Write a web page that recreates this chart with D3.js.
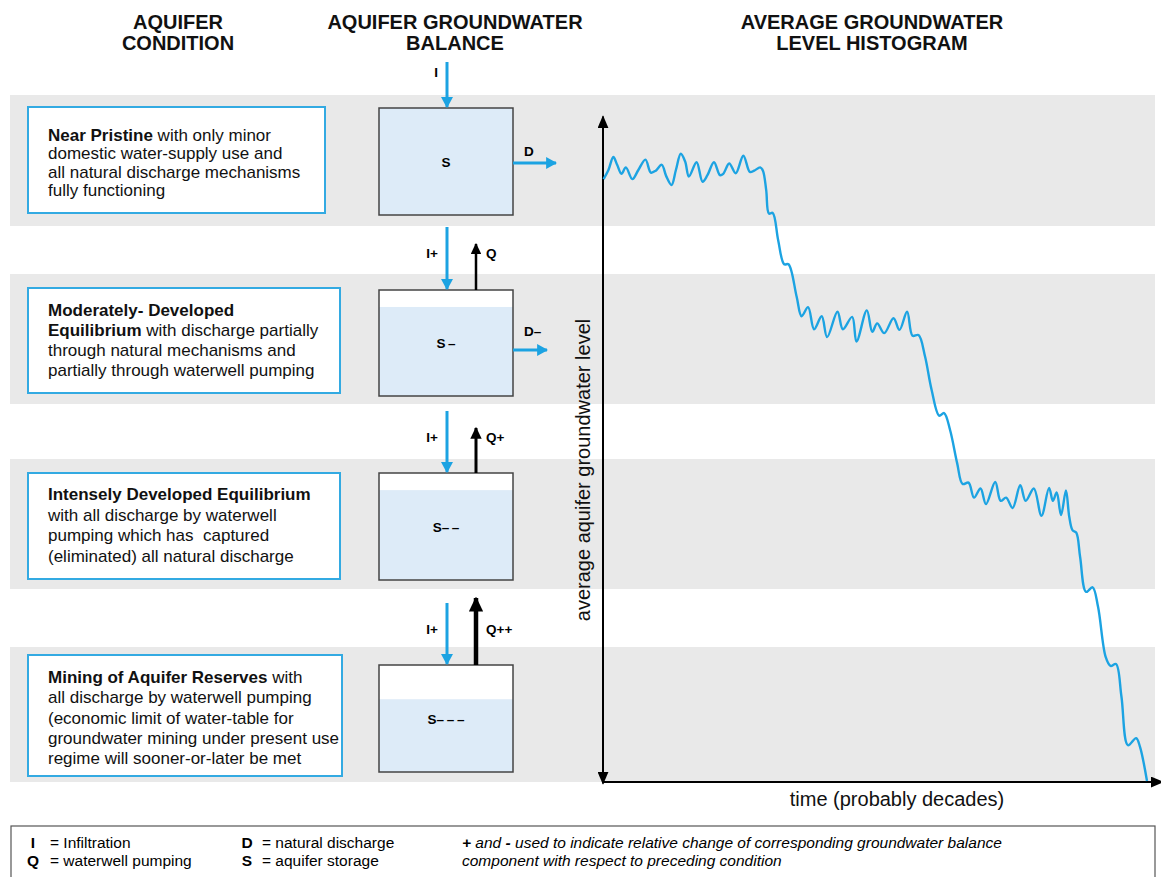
<!DOCTYPE html>
<html>
<head>
<meta charset="utf-8">
<script src="https://cdn.jsdelivr.net/npm/d3@7"></script>
<style>
  body { margin: 0; background: #fff; }
  svg { display: block; font-family: "Liberation Sans", Arial, Helvetica, sans-serif; }
  text { white-space: pre; }
</style>
</head>
<body>
<svg id="vis" width="1161" height="877"></svg>
<script>
// Data ////////////////////////////////////////////////////////////////////////////////////////////

var columnTitles = [['AQUIFER', 'CONDITION'], ['AQUIFER GROUNDWATER', 'BALANCE'], ['AVERAGE GROUNDWATER', 'LEVEL HISTOGRAM']];

// condition descriptions, **bold** marks the stage name
var stageText = [
  ['**Near Pristine** with only minor', 'domestic water-supply use and', 'all natural discharge mechanisms', 'fully functioning'],
  ['**Moderately- Developed**', '**Equilibrium** with discharge partially', 'through natural mechanisms and', 'partially through waterwell pumping'],
  ['**Intensely Developed Equilibrium**', 'with all discharge by waterwell', 'pumping which has  captured', '(eliminated) all natural discharge'],
  ['**Mining of Aquifer Reserves** with', 'all discharge by waterwell pumping', '(economic limit of water-table for', 'groundwater mining under present use', 'regime will sooner-or-later be met']
];

var inflowLabels = ['I', 'I+', 'I+', 'I+'];
var pumpLabels = [null, 'Q', 'Q+', 'Q++'];
var dischargeLabels = ['D', 'D\u2013', null, null];
var storageLabels = ['S', 'S\u2009\u2013', 'S\u2013\u2009\u2013', 'S\u2013\u2009\u2013\u2009\u2013'];
var storageFill = [1, 0.84, 0.84, 0.68];            // share of the storage box holding water

// groundwater level against time (arbitrary units 0-100)
var timeValues = [0.1, 1.0, 1.9, 2.6, 3.4, 4.2, 5.4, 6.5, 7.8, 8.8, 9.7, 10.8, 11.6, 12.6, 13.4, 14.3,
  15.1, 15.8, 17.2, 18.3, 19.2, 20.4, 21.5, 22.1, 23.2, 24.4, 25.8, 27.0, 27.8, 28.9, 29.4, 30.0,
  30.5, 31.2, 32.2, 33.3, 34.1, 35.6, 36.5, 37.7, 38.8, 40.2, 41.2, 43.1, 44.1, 45.8, 46.6, 48.5,
  49.5, 50.4, 51.7, 53.4, 54.5, 55.9, 56.9, 58.0, 59.2, 60.4, 61.8, 62.7, 63.8, 65.1, 66.1, 67.2,
  68.2, 69.4, 70.4, 72.1, 73.1, 74.1, 75.3, 76.7, 77.7, 79.2, 80.6, 82.0, 82.7, 83.4, 84.2, 85.1,
  85.7, 86.3, 87.0, 87.7, 88.8, 90.0, 91.0, 92.4, 93.3, 94.3, 95.3, 96.5, 98.0, 98.7, 100];
var levelValues = [92.6, 94.0, 96.0, 94.8, 93.4, 94.4, 92.6, 94.0, 95.6, 93.6, 93.9, 94.8, 93.1, 91.7, 94.0, 96.5,
  95.3, 93.0, 95.2, 92.2, 93.2, 95.2, 93.2, 93.4, 95.0, 93.5, 96.2, 93.7, 93.9, 94.4, 93.9, 90.9,
  87.3, 87.4, 83.2, 79.5, 79.5, 74.5, 71.5, 72.9, 69.5, 71.5, 68.3, 72.2, 69.5, 71.4, 67.6, 72.4,
  69.1, 70.4, 68.9, 71.2, 69.4, 72.2, 68.5, 68.6, 65.3, 60.2, 56.2, 56.6, 54.0, 48.9, 45.7, 45.9,
  43.6, 45.0, 42.6, 46.0, 43.1, 43.6, 42.0, 45.5, 43.1, 45.0, 40.8, 45.1, 43.1, 44.4, 40.9, 44.7,
  40.7, 38.6, 38.2, 34.5, 29.1, 29.8, 26.8, 19.1, 17.7, 18.0, 13.0, 5.5, 6.6, 5.3, 0];

var legendLeft = [['I', '= Infiltration'], ['Q', '= waterwell pumping']];
var legendRight = [['D', '= natural discharge'], ['S', '= aquifer storage']];
var legendNote = ['**+** and **-** used to indicate relative change of corresponding groundwater balance',
  'component with respect to preceding condition'];

var yLabel = 'average aquifer groundwater level';
var xLabel = 'time (probably decades)';

// Layout and styles ///////////////////////////////////////////////////////////////////////////////

var blue = '#1ca3e2', boxBlue = '#33aae2', water = '#ddebf8', band = '#e9e9e9';
var bandTop = [95, 274, 459, 647], bandBottom = [226, 404, 589, 782];
var textBoxTop = [107, 288, 473, 655], textBoxBottom = [213, 393, 579, 776], textBoxRight = [325, 340, 340, 342];
var textFirst = [141, 316, 500, 683], textGap = [18.4, 20, 20.5, 20.3];
var storeLeft = 379, storeRight = 513;
var storeTop = [108, 290, 473, 665], storeBottom = [215, 396, 580, 772];
var inflowStart = [62, 227, 411, 603], pumpTip = [null, 244, 428, 598];
var pumpWidth = [0, 2.5, 3, 4.5], pumpHead = [0, 11, 12, 15];
var flowLabelY = [77, 258, 442, 634];
var dischargeY = [163, 350], dischargeTip = [556, 547], dischargeLabelY = [156, 336];

var vis = d3.select('#vis');
var defs = vis.append('defs');

function marker(id, color, len, wid) {
  defs.append('marker').attr('id', id)
    .attr('viewBox', '0 0 10 10').attr('refX', 9).attr('refY', 5)
    .attr('markerUnits', 'userSpaceOnUse')
    .attr('markerWidth', len).attr('markerHeight', wid)
    .attr('preserveAspectRatio', 'none')
    .attr('orient', 'auto-start-reverse')
    .append('path').attr('d', 'M0,0L10,5L0,10Z').attr('fill', color);
  return 'url(#' + id + ')';
}

function richText(sel, str) {
  str.split('**').forEach(function(part, i) {
    if (part) sel.append('tspan').attr('font-weight', i % 2 ? 'bold' : null).text(part);
  });
}

// Bands ///////////////////////////////////////////////////////////////////////////////////////////

vis.append('g').selectAll('rect').data(bandTop).enter().append('rect')
  .attr('x', 10).attr('width', 1145)
  .attr('y', function(d) { return d })
  .attr('height', function(d, i) { return bandBottom[i] - d })
  .attr('fill', band);

// Column titles ///////////////////////////////////////////////////////////////////////////////////

var titleX = [178, 455, 872];
columnTitles.forEach(function(lines, i) {
  var t = vis.append('text').attr('text-anchor', 'middle')
    .attr('font-size', 20).attr('font-weight', 'bold').attr('fill', '#111');
  lines.forEach(function(l, j) {
    t.append('tspan').attr('x', titleX[i]).attr('y', 29 + j * 21).text(l);
  });
});

// Condition boxes /////////////////////////////////////////////////////////////////////////////////

var cond = vis.append('g');
stageText.forEach(function(lines, i) {
  cond.append('rect').attr('x', 28).attr('y', textBoxTop[i])
    .attr('width', textBoxRight[i] - 28).attr('height', textBoxBottom[i] - textBoxTop[i])
    .attr('fill', '#fff').attr('stroke', boxBlue).attr('stroke-width', 2);
  lines.forEach(function(l, j) {
    var t = cond.append('text').attr('x', 48).attr('y', textFirst[i] + j * textGap[i])
      .attr('font-size', 17).attr('fill', '#111');
    richText(t, l);
  });
});

// Groundwater balance column //////////////////////////////////////////////////////////////////////

var bal = vis.append('g');
var blueHead = marker('blueHead', blue, 11, 12);
storageFill.forEach(function(f, i) {
  var h = storeBottom[i] - storeTop[i];
  bal.append('rect').attr('x', storeLeft).attr('y', storeTop[i])
    .attr('width', storeRight - storeLeft).attr('height', h).attr('fill', '#fff');
  bal.append('rect').attr('x', storeLeft).attr('y', storeBottom[i] - h * f)
    .attr('width', storeRight - storeLeft).attr('height', h * f).attr('fill', water);
  bal.append('rect').attr('x', storeLeft).attr('y', storeTop[i])
    .attr('width', storeRight - storeLeft).attr('height', h)
    .attr('fill', 'none').attr('stroke', '#444').attr('stroke-width', 1.5);
  bal.append('text').attr('x', 446).attr('y', (storeTop[i] + storeBottom[i]) / 2 + 5)
    .attr('text-anchor', 'middle').attr('font-size', 13.5).attr('font-weight', 'bold')
    .text(storageLabels[i]);

  // infiltration arrow
  bal.append('line').attr('x1', 447).attr('x2', 447)
    .attr('y1', inflowStart[i]).attr('y2', storeTop[i] - 1)
    .attr('stroke', blue).attr('stroke-width', 3).attr('marker-end', blueHead);
  bal.append('text').attr('x', 438).attr('y', flowLabelY[i]).attr('text-anchor', 'end')
    .attr('font-size', 13.5).attr('font-weight', 'bold').text(inflowLabels[i]);

  // pumping arrow
  if (pumpLabels[i]) {
    var head = marker('pump' + i, '#000', pumpHead[i], pumpHead[i] * 0.95);
    bal.append('line').attr('x1', 476).attr('x2', 476)
      .attr('y1', storeTop[i]).attr('y2', pumpTip[i])
      .attr('stroke', '#000').attr('stroke-width', pumpWidth[i]).attr('marker-end', head);
    bal.append('text').attr('x', 486).attr('y', flowLabelY[i])
      .attr('font-size', 13.5).attr('font-weight', 'bold').text(pumpLabels[i]);
  }

  // natural discharge arrow
  if (dischargeLabels[i]) {
    bal.append('line').attr('x1', storeRight).attr('x2', dischargeTip[i])
      .attr('y1', dischargeY[i]).attr('y2', dischargeY[i])
      .attr('stroke', blue).attr('stroke-width', 3).attr('marker-end', blueHead);
    bal.append('text').attr('x', 524).attr('y', dischargeLabelY[i])
      .attr('font-size', 13.5).attr('font-weight', 'bold').text(dischargeLabels[i]);
  }
});

// Histogram ///////////////////////////////////////////////////////////////////////////////////////

var x = d3.scaleLinear().domain([0, 100]).range([603, 1147]);
var y = d3.scaleLinear().domain([0, 100]).range([781, 131]);
var axisHead = marker('axisHead', '#000', 13, 11);

var yAxisScale = d3.scaleLinear().domain([0, 1]).range([y(0) + 2, 116]);
var xAxisScale = d3.scaleLinear().domain([0, 1]).range([x(0), 1162]);

var yAxis = vis.append('g').attr('transform', 'translate(' + (x(0) - 0.5) + ',0)')
  .call(d3.axisLeft(yAxisScale).tickValues([]).tickSizeOuter(0));
yAxis.select('.domain').attr('stroke-width', 2)
  .attr('marker-start', axisHead).attr('marker-end', axisHead);

var xAxis = vis.append('g').attr('transform', 'translate(0,' + (y(0) + 0.5) + ')')
  .call(d3.axisBottom(xAxisScale).tickValues([]).tickSizeOuter(0));
xAxis.select('.domain').attr('stroke-width', 2).attr('marker-end', axisHead);

var series = timeValues.map(function(t, i) { return [t, levelValues[i]] });
var line = d3.line()
  .x(function(d) { return x(d[0]) })
  .y(function(d) { return y(d[1]) })
  .curve(d3.curveCatmullRom.alpha(0.5));

vis.append('path').datum(series)
  .attr('d', line).attr('fill', 'none')
  .attr('stroke', blue).attr('stroke-width', 2.4).attr('stroke-linejoin', 'round');

vis.append('text')
  .attr('transform', 'translate(590,470) rotate(-90)')
  .attr('text-anchor', 'middle').attr('font-size', 20).attr('fill', '#111')
  .text(yLabel);
vis.append('text').attr('x', 897).attr('y', 806)
  .attr('text-anchor', 'middle').attr('font-size', 20).attr('fill', '#111')
  .text(xLabel);

// Legend //////////////////////////////////////////////////////////////////////////////////////////

var legend = vis.append('g');
legend.append('rect').attr('x', 11).attr('y', 826).attr('width', 1144).attr('height', 80)
  .attr('fill', 'none').attr('stroke', '#555').attr('stroke-width', 1.2);

[[legendLeft, 33, 50], [legendRight, 247, 262]].forEach(function(col) {
  col[0].forEach(function(d, j) {
    legend.append('text').attr('x', col[1]).attr('y', 848 + j * 18).attr('text-anchor', 'middle')
      .attr('font-size', 15.5).attr('font-weight', 'bold').text(d[0]);
    legend.append('text').attr('x', col[2]).attr('y', 848 + j * 18)
      .attr('font-size', 15.5).text(d[1]);
  });
});
legendNote.forEach(function(l, j) {
  var t = legend.append('text').attr('x', 462).attr('y', 848 + j * 18)
    .attr('font-size', 15.5).attr('font-style', 'italic');
  richText(t, l);
});
</script>
</body>
</html>
